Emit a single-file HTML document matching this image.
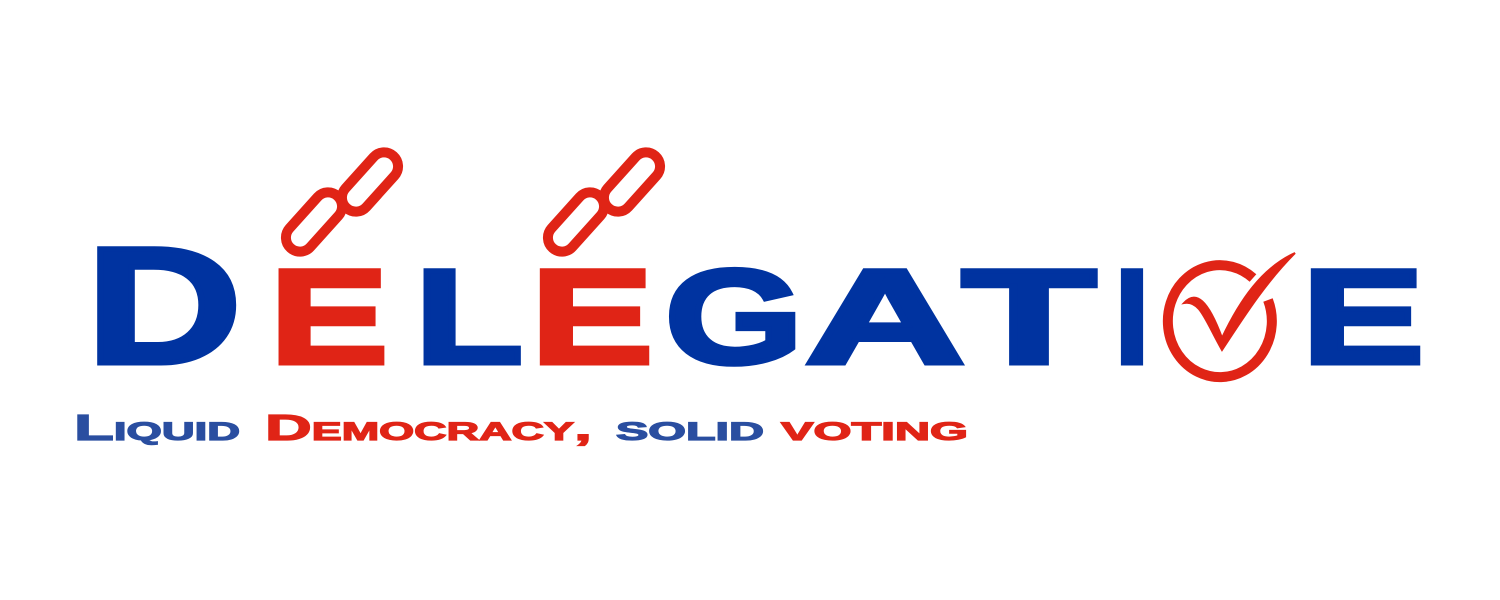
<!DOCTYPE html>
<html><head><meta charset="utf-8"><style>
html,body{margin:0;padding:0;background:#fff;}
svg{display:block;}
text{font-family:"Liberation Sans",sans-serif;font-weight:bold;}
</style></head><body>
<svg width="1500" height="600" viewBox="0 0 1500 600">
<rect width="1500" height="600" fill="#fff"/>
<g stroke-width="5" stroke-linejoin="miter">
<text x="86" y="363" font-size="166" fill="#0033a0" stroke="#0033a0" textLength="156" lengthAdjust="spacingAndGlyphs">D</text>
<text x="270" y="363" font-size="134" fill="#e02416" stroke="#e02416" textLength="118" lengthAdjust="spacingAndGlyphs">E</text>
<text x="415" y="363" font-size="134" fill="#0033a0" stroke="#0033a0" textLength="108" lengthAdjust="spacingAndGlyphs">L</text>
<text x="531" y="363" font-size="134" fill="#e02416" stroke="#e02416" textLength="122" lengthAdjust="spacingAndGlyphs">E</text>
<text x="665" y="363" font-size="134" fill="#0033a0" stroke="#0033a0" textLength="138" lengthAdjust="spacingAndGlyphs">G</text>
<text x="805" y="363" font-size="134" fill="#0033a0" stroke="#0033a0" textLength="160" lengthAdjust="spacingAndGlyphs">A</text>
<text x="962" y="363" font-size="134" fill="#0033a0" stroke="#0033a0" textLength="134" lengthAdjust="spacingAndGlyphs">T</text>
<text x="1115" y="363" font-size="134" fill="#0033a0" stroke="#0033a0" textLength="34" lengthAdjust="spacingAndGlyphs">I</text>
<text x="1302" y="363" font-size="134" fill="#0033a0" stroke="#0033a0" textLength="122" lengthAdjust="spacingAndGlyphs">E</text>
</g>
<g fill="none" stroke="#e02416">
<path d="M1253,278 A52,56 0 1 0 1268,300" stroke-width="10"/>
<path d="M1184,303 C1196,290 1208,300 1222,338 C1240,300 1262,268 1295,253 C1268,280 1248,310 1222,350 C1205,320 1200,300 1184,303 Z" fill="#e02416" stroke-width="2"/>
</g>
<g fill="none" stroke="#e02416" stroke-width="10">
<rect x="-35" y="-14" width="70" height="28" rx="14" transform="translate(314,222) rotate(-48)"/>
<rect x="-35" y="-14" width="70" height="28" rx="14" transform="translate(370,182) rotate(-48)"/>
</g>
<g fill="none" stroke="#e02416" stroke-width="10">
<rect x="-35" y="-14" width="70" height="28" rx="14" transform="translate(576,222) rotate(-48)"/>
<rect x="-35" y="-14" width="70" height="28" rx="14" transform="translate(632,182) rotate(-48)"/>
</g>
<g style="font-variant:small-caps" font-size="36" stroke-width="1.2">
<text x="74" y="440" fill="#2a4ea0" stroke="#2a4ea0" textLength="166" lengthAdjust="spacingAndGlyphs">Liquid</text>
<text x="265" y="440" fill="#e02416" stroke="#e02416" textLength="327" lengthAdjust="spacingAndGlyphs">Democracy,</text>
<text x="616" y="440" fill="#2a4ea0" stroke="#2a4ea0" textLength="148" lengthAdjust="spacingAndGlyphs">solid</text>
<text x="781" y="440" fill="#e02416" stroke="#e02416" textLength="187" lengthAdjust="spacingAndGlyphs">voting</text>
</g>
</svg>
</body></html>
